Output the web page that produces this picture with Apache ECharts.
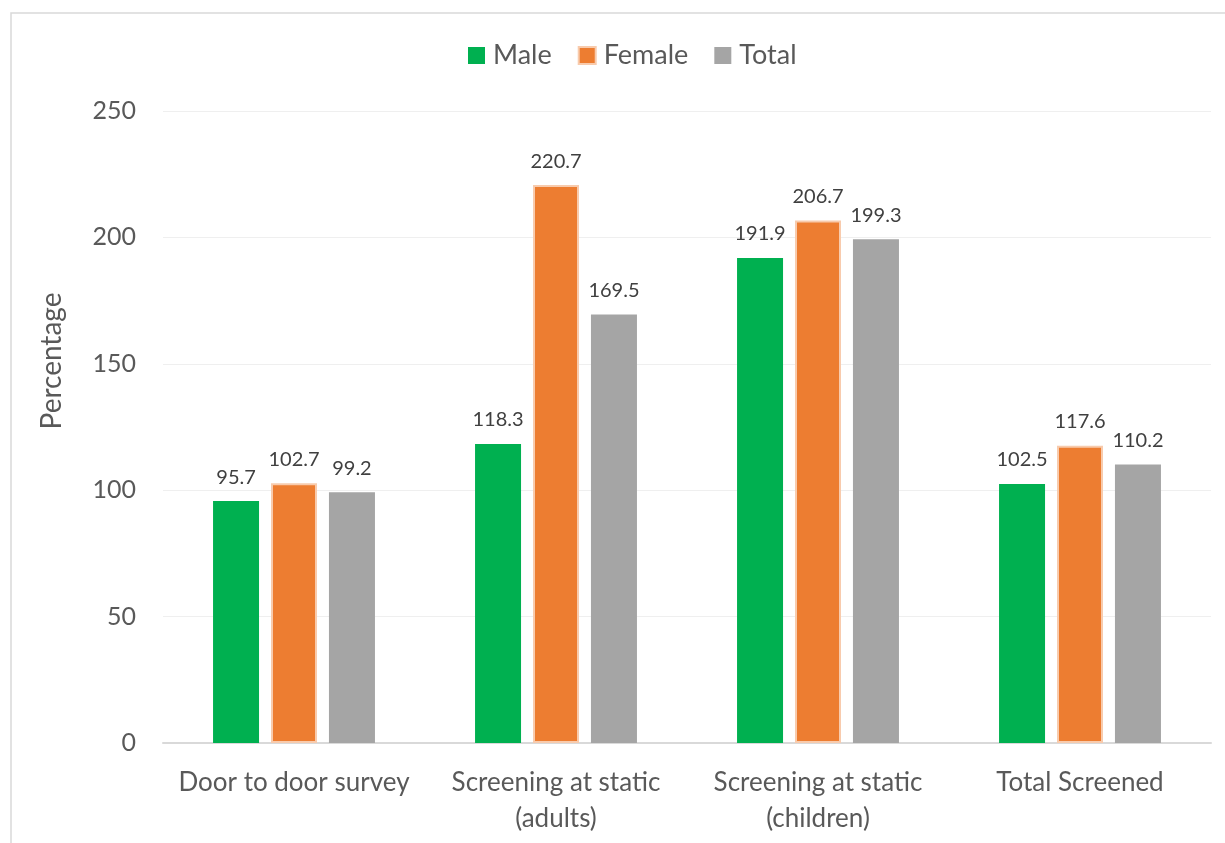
<!DOCTYPE html>
<html>
<head>
<meta charset="utf-8">
<style>
  html, body { margin: 0; padding: 0; background: #fff; }
  #chart { width: 1225px; height: 843px; }
</style>
<script src="https://cdn.jsdelivr.net/npm/echarts@6/dist/echarts.min.js"></script>
</head>
<body>
<div id="chart"></div>
<script>
// Screening coverage by method and sex
const categories = ['Door to door survey', 'Screening at static\n(adults)', 'Screening at static\n(children)', 'Total Screened'];
const male = [95.7, 118.3, 191.9, 102.5];
const female = [102.7, 220.7, 206.7, 117.6];
const total = [99.2, 169.5, 199.3, 110.2];
const yTicks = { min: 0, max: 250, interval: 50 };

const FONT = 'Lato, "Open Sans", sans-serif';
const TEXT = '#595959';

const label = {
  show: true,
  position: 'top',
  distance: 14,
  fontFamily: FONT,
  fontSize: 20,
  color: '#404040',
  formatter: p => p.value.toFixed(1)
};

const chart = echarts.init(document.getElementById('chart'), null, { renderer: 'canvas' });
chart.setOption({
  backgroundColor: '#ffffff',
  animation: false,
  textStyle: { fontFamily: FONT },
  graphic: [
    {
      type: 'rect',
      shape: { x: 11, y: 13, width: 1230, height: 850 },
      style: { fill: 'none', stroke: '#D9D9D9', lineWidth: 1.5 },
      silent: true
    },
    {
      type: 'text',
      x: 52, y: 361,
      rotation: Math.PI / 2,
      style: {
        text: 'Percentage',
        fontFamily: FONT,
        fontSize: 28,
        fill: TEXT,
        align: 'center',
        verticalAlign: 'middle'
      }
    }
  ],
  legend: {
    top: 37,
    left: 463,
    itemWidth: 17,
    itemHeight: 17,
    itemGap: 26,
    icon: 'rect',
    textStyle: { fontFamily: FONT, fontSize: 27, color: TEXT, padding: [0, 0, 0, 3] },
    data: ['Male', 'Female', 'Total']
  },
  grid: { left: 163, right: 14, top: 111, bottom: 100, containLabel: false },
  xAxis: {
    type: 'category',
    data: categories,
    axisLine: { lineStyle: { color: '#D9D9D9', width: 2 } },
    axisTick: { show: false },
    axisLabel: {
      interval: 0,
      fontFamily: FONT,
      fontSize: 26,
      color: TEXT,
      margin: 22,
      lineHeight: 36
    }
  },
  yAxis: {
    type: 'value',
    min: yTicks.min,
    max: yTicks.max,
    interval: yTicks.interval,
    axisLine: { show: false },
    axisTick: { show: false },
    splitLine: { lineStyle: { color: '#EFEFEF', width: 1 } },
    axisLabel: { fontFamily: FONT, fontSize: 25, color: TEXT, margin: 27 }
  },
  series: [
    {
      name: 'Male', type: 'bar', data: male,
      barWidth: 46, barGap: '26%',
      itemStyle: { color: '#00B050' },
      label
    },
    {
      name: 'Female', type: 'bar', data: female,
      barWidth: 46, barGap: '26%',
      itemStyle: { color: '#ED7D31', borderColor: '#F8CBAD', borderWidth: 2 },
      label
    },
    {
      name: 'Total', type: 'bar', data: total,
      barWidth: 46, barGap: '26%',
      itemStyle: { color: '#A5A5A5' },
      label
    }
  ]
});
</script>
</body>
</html>
